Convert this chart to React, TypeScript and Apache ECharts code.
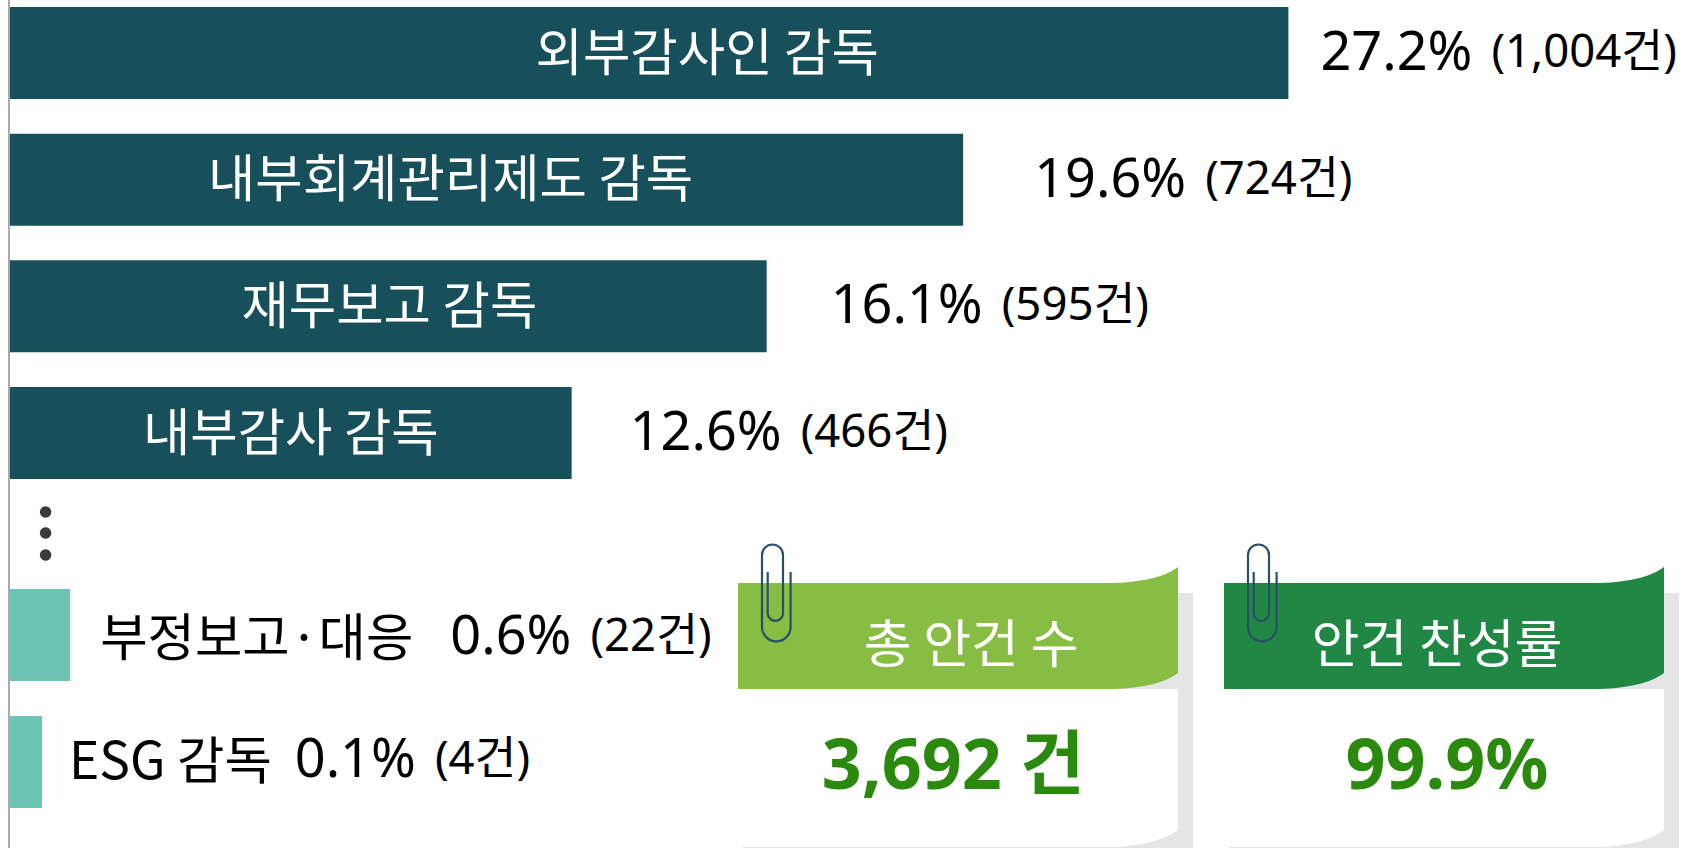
import React, { useEffect, useRef } from "react";
import * as echarts from "echarts";

// Data
const topCategories = ["외부감사인 감독", "내부회계관리제도 감독", "재무보고 감독", "내부감사 감독"];
const topShares = [27.2, 19.6, 16.1, 12.6];
const topCounts = [1004, 724, 595, 466];
// lengths of the bars as drawn (the picture's bars are not strictly proportional to the labels)
const topDrawnLengths = [27.2, 20.28, 16.1, 11.95];

const bottomCategories = ["부정보고·대응", "ESG 감독"];
const bottomShares = [0.6, 0.1];
const bottomCounts = [22, 4];
const bottomDrawnLengths = [1.28, 0.68];

const cardTitles = ["총 안건 수", "안건 찬성률"];
const cardValues = ["3,692 건", "99.9%"];

// Layout (separate from the data)
const W = 1681;
const H = 848;
const PX_PER_UNIT = 47;
const AXIS_MAX = (W - 10) / PX_PER_UNIT;
const topNameDx = [58, -36, 1, 0];
const topValueGap = [32, 71, 64, 58];
const bottomValueGap = [30, 27];
const bottomLabelDy = [-2, -6];
const FONT = '"Noto Sans", "Noto Sans CJK KR", sans-serif';
const CJK = '"Noto Sans CJK KR", "Noto Sans", sans-serif';

const ribbonD = "M738 583 L1107 583 C1140 583 1165 577 1178 567 L1178 673 C1165 683 1140 689 1107 689 L738 689 Z";
const paperD = "M738 689 L1178 689 L1178 830 C1165 840 1140 847 1107 847 L743 847 Z";
const clipD =
  "M767.7 572 L767.7 614 A7.7 7.7 0 0 0 783 614 L783 555 A10.5 10.5 0 0 0 762 555 L762 627 A14.3 14.3 0 0 0 790.6 627 L790.6 572";
echarts.graphic.registerShape("ribbon", echarts.graphic.extendPath(ribbonD, {}));
echarts.graphic.registerShape("paper", echarts.graphic.extendPath(paperD, {}));
echarts.graphic.registerShape("clip", echarts.graphic.extendPath(clipD, {}));

const pct = (v: number) => `${v.toFixed(1)}%`;
const cnt = (c: number) => `(${c.toLocaleString("en-US")}건)`;

const rich = {
  name: { fontFamily: CJK, fontSize: 51.5, color: "#000", lineHeight: 60 },
  pct: { fontFamily: FONT, fontSize: 54, color: "#000", lineHeight: 60 },
  cnt: { fontFamily: FONT, fontSize: 45.5, color: "#000", lineHeight: 60 },
  gapSmall: { width: 19, fontSize: 20 },
  gapName0: { width: 37, fontSize: 20 },
  gapName1: { width: 23, fontSize: 20 },
};

function card(i: number, dx: number, color: string, titleX: number, valueX: number) {
  return [
    { type: "rect", shape: { x: 743 + dx, y: 593, width: 450, height: 255 }, style: { fill: "#e5e5e5" }, z: 1 },
    { type: "paper", x: dx, y: 0, style: { fill: "#ffffff" }, z: 2 },
    { type: "ribbon", x: dx, y: 0, style: { fill: color }, z: 3 },
    { type: "clip", x: dx, y: 0, style: { fill: "none", stroke: "#2a5068", lineWidth: 2.2 }, z: 4 },
    {
      type: "text",
      x: titleX,
      y: 640,
      z: 5,
      style: { text: cardTitles[i], fill: "#fff", font: `52px ${CJK}`, align: "center", verticalAlign: "middle" },
    },
    {
      type: "text",
      x: valueX,
      y: 762,
      z: 5,
      style: { text: cardValues[i], fill: "#2b8a0e", font: `bold 70px ${FONT}`, align: "center", verticalAlign: "middle" },
    },
  ];
}

export default function App() {
  const ref = useRef<HTMLDivElement>(null);
  useEffect(() => {
    document.body.style.margin = "0";
    const chart = echarts.init(ref.current!, null, { renderer: "svg" });
    const xAxisBase = { type: "value", min: 0, max: AXIS_MAX, show: false };
    const yBase = {
      type: "category",
      inverse: true,
      boundaryGap: false,
      axisLine: { show: false },
      axisTick: { show: false },
      axisLabel: { show: false },
      splitLine: { show: false },
    };
    chart.setOption({
      animation: false,
      backgroundColor: "#fff",
      grid: [
        { left: 10, width: W - 10, top: 53, height: 380 },
        { left: 10, width: W - 10, top: 635, height: 127 },
      ],
      xAxis: [
        { ...xAxisBase, gridIndex: 0 },
        { ...xAxisBase, gridIndex: 1 },
      ],
      yAxis: [
        { ...yBase, gridIndex: 0, data: topCategories },
        { ...yBase, gridIndex: 1, data: bottomCategories },
      ],
      series: [
        {
          type: "bar",
          name: "top",
          xAxisIndex: 0,
          yAxisIndex: 0,
          barWidth: 92,
          clip: false,
          itemStyle: { color: "#17505b" },
          data: topDrawnLengths.map((v, i) => ({
            value: v,
            label: { offset: [topNameDx[i], -5] },
          })),
          label: {
            show: true,
            position: "inside",
            formatter: (p: any) => p.name,
            fontFamily: CJK,
            fontSize: 51.5,
            color: "#fff",
          },
        },
        {
          type: "bar",
          name: "topValues",
          xAxisIndex: 0,
          yAxisIndex: 0,
          barWidth: 92,
          barGap: "-100%",
          clip: false,
          itemStyle: { color: "transparent" },
          data: topDrawnLengths.map((v, i) => ({
            value: v,
            label: { distance: topValueGap[i], offset: [0, -4] },
          })),
          label: {
            show: true,
            position: "right",
            formatter: (p: any) => `{pct|${pct(topShares[p.dataIndex])}}{gapSmall| }{cnt|${cnt(topCounts[p.dataIndex])}}`,
            rich,
          },
        },
        {
          type: "bar",
          name: "bottom",
          xAxisIndex: 1,
          yAxisIndex: 1,
          barWidth: 92,
          clip: false,
          itemStyle: { color: "#6cc4b2" },
          data: bottomDrawnLengths.map((v, i) => ({
            value: v,
            label: { distance: bottomValueGap[i], offset: [0, bottomLabelDy[i]] },
          })),
          label: {
            show: true,
            position: "right",
            formatter: (p: any) =>
              `{name|${p.name}}{gapName${p.dataIndex}| }{pct|${pct(bottomShares[p.dataIndex])}}{gapSmall| }{cnt|${cnt(bottomCounts[p.dataIndex])}}`,
            rich,
          },
        },
      ],
      graphic: [
        { type: "rect", shape: { x: 8, y: 0, width: 2, height: H }, style: { fill: "#a9a9ae" }, z: 10 },
        { type: "circle", shape: { cx: 45.6, cy: 512, r: 5.7 }, style: { fill: "#3a3a3a" } },
        { type: "circle", shape: { cx: 45.6, cy: 533, r: 5.7 }, style: { fill: "#3a3a3a" } },
        { type: "circle", shape: { cx: 45.6, cy: 555, r: 5.7 }, style: { fill: "#3a3a3a" } },
        ...card(0, 0, "#86bd42", 971, 953),
        ...card(1, 486, "#208844", 1437, 1447),
      ],
    });
    return () => chart.dispose();
  }, []);
  return <div ref={ref} style={{ width: W, height: H, overflow: "hidden" }} />;
}
